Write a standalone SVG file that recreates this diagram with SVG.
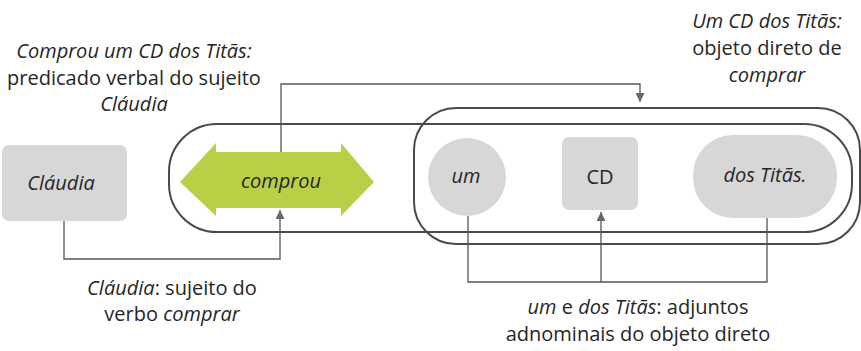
<svg xmlns="http://www.w3.org/2000/svg" width="861" height="351" viewBox="0 0 861 351">
  <defs>
    <marker id="arr" viewBox="0 0 10 10" refX="10" refY="5" markerWidth="9" markerHeight="9" markerUnits="userSpaceOnUse" orient="auto">
      <path d="M0,0 L10,5 L0,10 z" fill="#666"/>
    </marker>
    <style>
      .t { font-family: "Open Sans", "Noto Sans", sans-serif; font-size: 20px; fill: #262626; }
      .i { font-style: italic; }
      .node { fill: #d7d7d7; }
      .pill { fill: none; stroke: #4a4a4a; stroke-width: 2; }
      .con { fill: none; stroke: #555; stroke-width: 1.3; }
    </style>
  </defs>
  <rect width="861" height="351" fill="#ffffff"/>

  <!-- enclosing pills -->
  <g id="pill-predicado">
    <rect class="pill" x="169" y="124" width="683" height="108" rx="48" ry="48"/>
  </g>
  <g id="pill-objeto">
    <rect class="pill" x="414" y="108" width="446" height="136" rx="42" ry="42"/>
  </g>

  <!-- nodes -->
  <g id="claudia">
    <rect class="node" x="2" y="145" width="125" height="76" rx="7"/>
    <text class="t i" x="61" y="190" text-anchor="middle">Cláudia</text>
  </g>
  <g id="comprou">
    <polygon points="180,182 216,143 216,152 341,152 341,143 374,182 341,216 341,208 216,208 216,216" fill="#b9cf46"/>
    <text class="t i" x="281" y="188" text-anchor="middle">comprou</text>
  </g>
  <g id="um">
    <ellipse class="node" cx="467" cy="177" rx="39" ry="39"/>
    <text class="t i" x="466" y="183" text-anchor="middle">um</text>
  </g>
  <g id="cd">
    <rect class="node" x="562" y="137" width="76" height="73" rx="7"/>
    <text class="t" x="600" y="184" text-anchor="middle">CD</text>
  </g>
  <g id="dos-titas">
    <rect class="node" x="693" y="135" width="144" height="83" rx="40"/>
    <text class="t i" x="765" y="182" text-anchor="middle">dos Titãs.</text>
  </g>

  <!-- connectors -->
  <g id="connectors">
    <polyline class="con" points="281,152 281,84 640,84 640,102" marker-end="url(#arr)"/>
    <polyline class="con" points="64,221 64,259 280,259 280,210" marker-end="url(#arr)"/>
    <polyline class="con" points="468,216 468,282 767,282 767,218"/>
    <polyline class="con" points="601,282 601,212" marker-end="url(#arr)"/>
  </g>

  <!-- labels -->
  <g id="label-predicado">
    <text class="t i" x="134" y="58" text-anchor="middle">Comprou um CD dos Titãs:</text>
    <text class="t" x="134" y="85" text-anchor="middle">predicado verbal do sujeito</text>
    <text class="t i" x="134" y="111" text-anchor="middle">Cláudia</text>
  </g>
  <g id="label-objeto">
    <text class="t i" x="767" y="28" text-anchor="middle">Um CD dos Titãs:</text>
    <text class="t" x="767" y="55" text-anchor="middle">objeto direto de</text>
    <text class="t i" x="767" y="82" text-anchor="middle">comprar</text>
  </g>
  <g id="label-sujeito">
    <text class="t" x="172" y="295" text-anchor="middle"><tspan class="i">Cláudia</tspan>: sujeito do</text>
    <text class="t" x="172" y="321" text-anchor="middle">verbo <tspan class="i">comprar</tspan></text>
  </g>
  <g id="label-adjuntos">
    <text class="t" x="638" y="314" text-anchor="middle"><tspan class="i">um</tspan> e <tspan class="i">dos Titãs</tspan>: adjuntos</text>
    <text class="t" x="638" y="341" text-anchor="middle">adnominais do objeto direto</text>
  </g>
</svg>
